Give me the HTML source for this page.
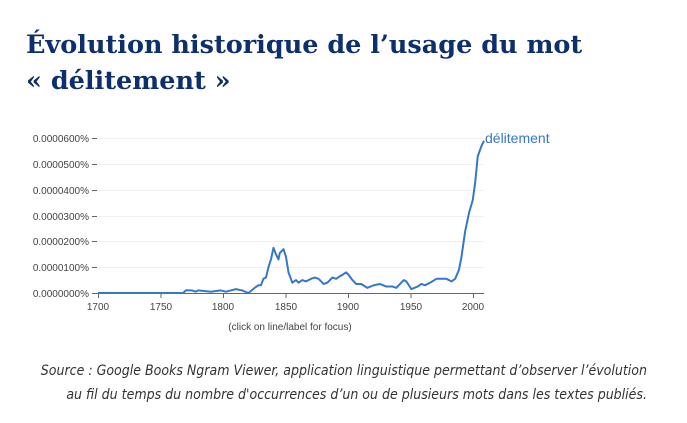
<!DOCTYPE html>
<html><head><meta charset="utf-8"><style>
body{margin:0;background:#fff;width:687px;height:423px;overflow:hidden;position:relative}
h1{position:absolute;left:26px;top:27px;margin:0;font:bold 25.5px/36px "DejaVu Serif","Liberation Serif",serif;color:#0d2f6e;white-space:nowrap}
.cap{position:absolute;left:0;width:647px;text-align:right;font:italic 14px/24px "DejaVu Sans Condensed","Liberation Sans",sans-serif;color:#333;top:359px}
</style></head><body>
<h1>Évolution historique de l’usage du mot<br>« délitement »</h1>
<svg width="687" height="423" style="position:absolute;left:0;top:0" font-family="Liberation Sans, sans-serif">
<g stroke="#f0f0f0" stroke-width="1">
<line x1="98" x2="484" y1="138.5" y2="138.5"/><line x1="98" x2="484" y1="164.5" y2="164.5"/><line x1="98" x2="484" y1="190.5" y2="190.5"/><line x1="98" x2="484" y1="216.5" y2="216.5"/><line x1="98" x2="484" y1="241.5" y2="241.5"/><line x1="98" x2="484" y1="267.5" y2="267.5"/>
</g>
<g stroke="#666" stroke-width="1">
<line x1="92" x2="484" y1="293.5" y2="293.5"/>
<line x1="92" x2="97" y1="138.5" y2="138.5"/><line x1="92" x2="97" y1="164.5" y2="164.5"/><line x1="92" x2="97" y1="190.5" y2="190.5"/><line x1="92" x2="97" y1="216.5" y2="216.5"/><line x1="92" x2="97" y1="241.5" y2="241.5"/><line x1="92" x2="97" y1="267.5" y2="267.5"/>
<line x1="98.5" x2="98.5" y1="293" y2="298"/><line x1="161" x2="161" y1="293" y2="298"/><line x1="223.5" x2="223.5" y1="293" y2="298"/><line x1="286" x2="286" y1="293" y2="298"/><line x1="348.5" x2="348.5" y1="293" y2="298"/><line x1="411" x2="411" y1="293" y2="298"/><line x1="473.5" x2="473.5" y1="293" y2="298"/>
</g>
<g font-size="10" fill="#444" text-anchor="end">
<text x="89" y="142">0.0000600%</text><text x="89" y="168">0.0000500%</text><text x="89" y="194">0.0000400%</text><text x="89" y="220">0.0000300%</text><text x="89" y="245">0.0000200%</text><text x="89" y="271">0.0000100%</text><text x="89" y="297">0.0000000%</text>
</g>
<g font-size="10" fill="#444" text-anchor="middle">
<text x="98" y="310">1700</text><text x="161" y="310">1750</text><text x="223" y="310">1800</text><text x="286" y="310">1850</text><text x="348" y="310">1900</text><text x="411" y="310">1950</text><text x="473" y="310">2000</text>
<text x="290" y="330">(click on line/label for focus)</text>
</g>
<g transform="translate(98,293) scale(1.2533,-25.8)">
<path fill="none" stroke="#3577cc" stroke-width="2" vector-effect="non-scaling-stroke" stroke-linejoin="round" d="M0,0 L68,0 L70,0.1 L75,0.1 L78,0.05 L80,0.1 L90,0.05 L98,0.1 L102,0.05 L106,0.1 L110,0.15 L115,0.1 L120,0 L125,0.2 L128,0.3 L130,0.3 L132,0.55 L134,0.6 L136,1.0 L138,1.3 L140,1.75 L142,1.5 L144,1.3 L145,1.55 L148,1.7 L150,1.4 L152,0.8 L155,0.4 L158,0.5 L160,0.4 L163,0.5 L166,0.45 L170,0.55 L173,0.6 L176,0.55 L180,0.35 L183,0.4 L187,0.6 L190,0.55 L193,0.65 L195,0.7 L198,0.8 L200,0.7 L203,0.5 L206,0.35 L210,0.35 L215,0.2 L220,0.3 L225,0.35 L230,0.25 L235,0.25 L238,0.2 L241,0.35 L244,0.5 L246,0.45 L250,0.15 L255,0.25 L258,0.35 L261,0.3 L265,0.4 L270,0.55 L275,0.55 L278,0.55 L282,0.45 L285,0.55 L288,0.9 L290,1.4 L293,2.4 L296,3.1 L299,3.6 L301,4.3 L303,5.3 L306,5.7 L308,5.9"/>
</g>
<text x="485" y="143" font-size="14" fill="#3577cc">délitement</text>
</svg>
<div class="cap">Source : Google Books Ngram Viewer, application linguistique permettant d’observer l’évolution<br>au fil du temps du nombre d'occurrences d’un ou de plusieurs mots dans les textes publiés.</div>
</body></html>
